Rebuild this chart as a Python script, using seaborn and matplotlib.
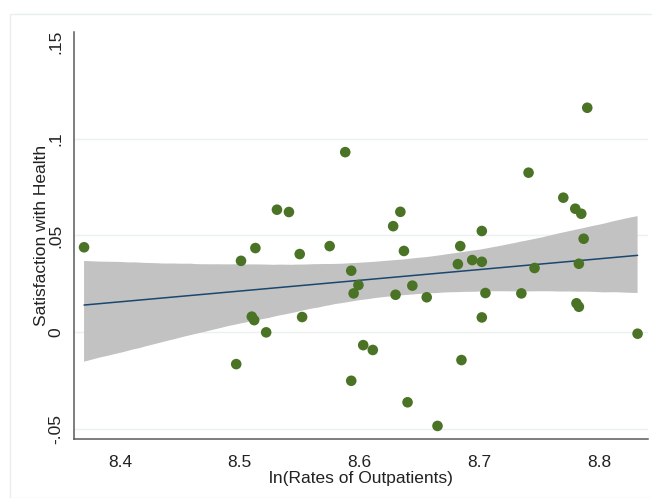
import numpy as np
import pandas as pd
import matplotlib
matplotlib.use("Agg")
import matplotlib.pyplot as plt
import seaborn as sns
from matplotlib.patches import Rectangle

# ln(rates of outpatients) and satisfaction-with-health change, one entry per unit
ln_outpatients = [
    8.370, 8.501, 8.513, 8.550, 8.575, 8.510, 8.512, 8.552, 8.522, 8.497,
    8.531, 8.541, 8.790, 8.588, 8.741, 8.770, 8.780, 8.785, 8.634, 8.628,
    8.702, 8.787, 8.637, 8.684, 8.593, 8.599, 8.595, 8.630, 8.644, 8.656,
    8.682, 8.694, 8.702, 8.705, 8.702, 8.735, 8.746, 8.783, 8.781, 8.783,
    8.832, 8.603, 8.611, 8.685, 8.593, 8.640, 8.665,
]
satisfaction = [
    0.0439, 0.0369, 0.0435, 0.0404, 0.0445, 0.0081, 0.0063, 0.0079, 0.0000, -0.0164,
    0.0633, 0.0621, 0.1159, 0.0930, 0.0824, 0.0695, 0.0638, 0.0612, 0.0622, 0.0548,
    0.0523, 0.0483, 0.0420, 0.0445, 0.0318, 0.0244, 0.0201, 0.0194, 0.0241, 0.0181,
    0.0352, 0.0373, 0.0364, 0.0203, 0.0077, 0.0201, 0.0332, 0.0354, 0.0150, 0.0132,
    -0.0007, -0.0066, -0.0091, -0.0143, -0.0250, -0.0361, -0.0483,
]

x_ticks = [8.4, 8.5, 8.6, 8.7, 8.8]
y_ticks = [-0.05, 0.0, 0.05, 0.1, 0.15]
y_tick_labels = ["-.05", "0", ".05", ".1", ".15"]
grid_levels = [-0.05, 0.0, 0.05, 0.1]

df = pd.DataFrame({"ln_out": ln_outpatients, "satis": satisfaction})

sns.set_style("white")
plt.rcParams["font.family"] = ["Liberation Sans", "DejaVu Sans"]

fig = plt.figure(figsize=(6.52, 4.98), dpi=100)
ax = fig.add_axes([74 / 652, 1 - 439.3 / 498, (648 - 74) / 652, (439.3 - 32) / 498])

# faint outer frame of the graph region
fig.patches.append(Rectangle((10 / 652, 0), 1.2, 1 - 14 / 498, transform=fig.transFigure,
                             fill=False, edgecolor="#e6eeef", linewidth=1.0, zorder=0))

for g in grid_levels:
    ax.axhline(g, color="#e9f1f2", linewidth=1.0, zorder=0)

# linear fit with 95% confidence band
np.random.seed(7)
sns.regplot(data=df, x="ln_out", y="satis", ax=ax, scatter=False, ci=95, n_boot=4000,
            truncate=True, color="#1a476f",
            line_kws={"linewidth": 1.1, "color": "#1a476f", "zorder": 3})
for coll in ax.collections:
    coll.set_facecolor("#c2c2c2")
    coll.set_alpha(1.0)
    coll.set_edgecolor("none")
    coll.set_zorder(2)

sns.scatterplot(data=df, x="ln_out", y="satis", ax=ax, color="#4b7325", s=58,
                edgecolor="none", linewidth=0, zorder=4)

ax.set_xlim(8.3616, 8.8407)
ax.set_ylim(-0.0552, 0.155)
ax.set_xticks(x_ticks)
ax.set_xticklabels([f"{t:.1f}" for t in x_ticks])
ax.set_yticks(y_ticks)
ax.set_yticklabels(y_tick_labels, rotation=90, va="center")

for side in ("top", "right"):
    ax.spines[side].set_visible(False)
for side in ("left", "bottom"):
    ax.spines[side].set_color("#5a5a5a")
    ax.spines[side].set_linewidth(1.1)

ax.tick_params(axis="both", direction="out", length=5, width=1.0, color="#5a5a5a",
               labelsize=12.5, labelcolor="#222222")
ax.tick_params(axis="x", pad=6)
ax.tick_params(axis="y", pad=2.5)

ax.set_xlabel("ln(Rates of Outpatients)", fontsize=12.5, color="#222222", labelpad=1)
ax.set_ylabel("Satisfaction with Health", fontsize=12.5, color="#222222", labelpad=0)

fig.savefig("out.png", dpi=100)
